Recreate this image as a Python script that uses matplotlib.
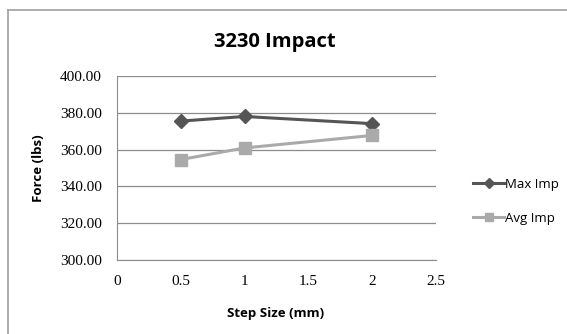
import matplotlib
matplotlib.use("Agg")
import matplotlib.pyplot as plt
from matplotlib.lines import Line2D

step_size = [0.5, 1, 2]
max_imp = [375.5, 378.0, 374.1]
avg_imp = [354.6, 360.9, 367.7]
x_ticks = [0, 0.5, 1, 1.5, 2, 2.5]
y_ticks = [300, 320, 340, 360, 380, 400]

fig = plt.figure(figsize=(5.67, 3.34), dpi=100)
W, H = 567, 334

# outer chart border (cropped on right/bottom)
fig.add_artist(Line2D([8 / W, 8 / W], [0, 1 - 10 / H], color="#a0a0a0", lw=1.2))
fig.add_artist(Line2D([8 / W, 1], [1 - 10 / H, 1 - 10 / H], color="#a0a0a0", lw=1.2))

ax = fig.add_axes([117 / W, 1 - 260 / H, (436 - 117) / W, (260 - 76) / H])
ax.set_xlim(0, 2.5)
ax.set_ylim(300, 400)
ax.set_xticks(x_ticks)
ax.set_xticklabels([f"{t:g}" for t in x_ticks], family="Liberation Serif", fontsize=11)
ax.set_yticks(y_ticks)
ax.set_yticklabels([f"{t:.2f}" for t in y_ticks], family="Liberation Serif", fontsize=11)
ax.tick_params(length=0, pad=11)
ax.tick_params(axis="x", pad=11)
ax.grid(axis="y", color="#8c8c8c", lw=0.9)
ax.set_axisbelow(True)
for s in ["top", "right"]:
    ax.spines[s].set_visible(False)
ax.spines["left"].set_color("#8c8c8c")
ax.spines["bottom"].set_color("#8c8c8c")

ax.plot(step_size, max_imp, color="#555555", lw=2.2, marker="D", ms=7,
        label="Max Imp")
ax.plot(step_size, avg_imp, color="#aaaaaa", lw=2.2, marker="s", ms=8,
        label="Avg Imp")

fig.text(275 / W, 1 - 42 / H, "3230 Impact", ha="center", va="center",
         fontsize=14.5, fontweight="bold", family="Open Sans")
fig.text(38 / W, 1 - 168 / H, "Force (lbs)", ha="center", va="center",
         rotation=90, fontsize=9.5, fontweight="bold", family="Open Sans")
fig.text(276 / W, 1 - 314 / H, "Step Size (mm)", ha="center", va="center",
         fontsize=9.5, fontweight="bold", family="Open Sans")

leg = ax.legend(loc="center left", bbox_to_anchor=(1.08, 0.32), frameon=False,
                prop={"family": "Open Sans", "size": 9.5}, handlelength=2.3,
                handletextpad=0.1, labelspacing=1.6, markerscale=0.7)

fig.savefig("out.png", dpi=100)
